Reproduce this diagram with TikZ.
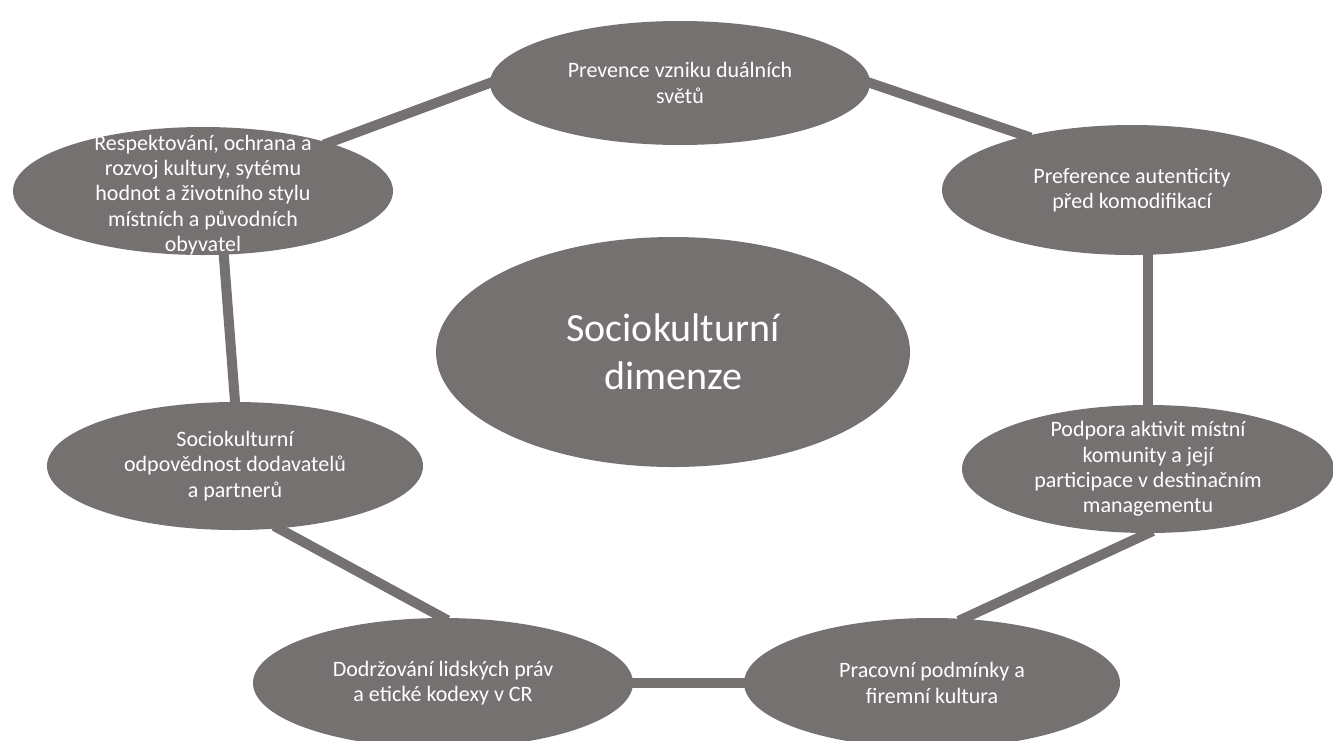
\documentclass[tikz,border=0pt]{standalone}
\usepackage{fontspec}
\setmainfont{Carlito}
\usetikzlibrary{shapes.geometric,calc,backgrounds}
\definecolor{ellgray}{HTML}{767171}
\begin{document}
\begin{tikzpicture}[x=0.75pt,y=-0.75pt,
  bubble/.style={ellipse, fill=ellgray, draw=none, inner sep=0pt},
  txt/.style={text=white, align=center, inner sep=0pt,
    font=\fontsize{16.5pt}{19pt}\selectfont},
  bigtxt/.style={text=white, align=center, inner sep=0pt,
    font=\fontsize{30pt}{36pt}\selectfont},
  conn/.style={draw=ellgray, line width=7.5pt, shorten <=-4pt, shorten >=-4pt}]
\path[use as bounding box, clip] (0,0) rectangle (1333,740);

\node[bubble, minimum width=285pt, minimum height=93pt,
  label={[txt]center:Prevence vzniku duálních\\světů}] (t) at (680,83) {};
\node[bubble, minimum width=285pt, minimum height=96pt,
  label={[txt, yshift=-3pt]center:Respektování, ochrana a\\rozvoj kultury, sytému\\hodnot a životního stylu\\místních a původních\\obyvatel}] (lt) at (203,191) {};
\node[bubble, minimum width=285pt, minimum height=97.5pt,
  label={[txt]center:Preference autenticity\\před komodifikací}] (rt) at (1132,190) {};
\node[bubble, minimum width=355.5pt, minimum height=172.5pt,
  label={[bigtxt]center:Sociokulturní\\dimenze}] (c) at (673,352) {};
\node[bubble, minimum width=282pt, minimum height=96pt,
  label={[txt]center:Sociokulturní\\odpovědnost dodavatelů\\a partnerů}] (lm) at (235,466) {};
\node[bubble, minimum width=279pt, minimum height=96pt,
  label={[txt]center:Podpora aktivit místní\\komunity a její\\participace v destinačním\\managementu}] (rm) at (1148,469) {};
\node[bubble, minimum width=285pt, minimum height=97.5pt,
  label={[txt]center:Dodržování lidských práv\\a etické kodexy v CR}] (bl) at (443,683) {};
\node[bubble, minimum width=282pt, minimum height=97.5pt,
  label={[txt]center:Pracovní podmínky a\\firemní kultura}] (br) at (932,683) {};

\begin{scope}[on background layer]
\draw[conn] (t.west) -- (lt.21);
\draw[conn] (t.east) -- (rt.153);
\draw[conn] (rt.south -| rm.north) -- (rm.north);
\draw[conn] (lt.-72) -- (lm.north);
\draw[conn] (lm.-55) -- (bl.north);
\draw[conn] (bl.east) -- (br.west);
\draw[conn] (br.64) -- (rm.south);
\end{scope}
\end{tikzpicture}
\end{document}
